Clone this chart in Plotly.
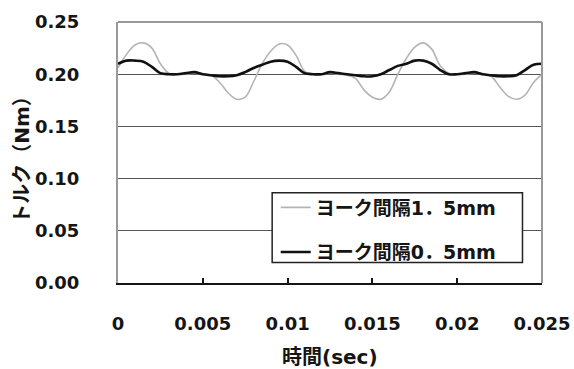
import plotly.graph_objects as go

# time (sec)
t = [0.0, 0.0005, 0.001, 0.0015, 0.002, 0.0025, 0.003, 0.0035, 0.004, 0.0045,
     0.005, 0.0055, 0.006, 0.0065, 0.007, 0.0075, 0.008, 0.0085, 0.009, 0.0095,
     0.010, 0.0105, 0.011, 0.0115, 0.012, 0.0125, 0.013, 0.0135, 0.014, 0.0145,
     0.015, 0.0155, 0.016, 0.0165, 0.017, 0.0175, 0.018, 0.0185, 0.019, 0.0195,
     0.020, 0.0205, 0.021, 0.0215, 0.022, 0.0225, 0.023, 0.0235, 0.024, 0.0245,
     0.025]

# ヨーク間隔1.5mm
torque_15 = [0.206, 0.219, 0.228, 0.230, 0.225, 0.210, 0.201, 0.200, 0.200, 0.201,
             0.200, 0.199, 0.192, 0.182, 0.176, 0.178, 0.193, 0.210, 0.222, 0.229,
             0.228, 0.218, 0.203, 0.200, 0.200, 0.201, 0.200, 0.199, 0.196, 0.185,
             0.178, 0.176, 0.183, 0.200, 0.215, 0.226, 0.230, 0.224, 0.208, 0.201,
             0.200, 0.200, 0.201, 0.200, 0.198, 0.188, 0.179, 0.176, 0.180, 0.192,
             0.200]

# ヨーク間隔0.5mm
torque_05 = [0.210, 0.213, 0.213, 0.212, 0.207, 0.201, 0.200, 0.200, 0.201, 0.202,
             0.200, 0.199, 0.198, 0.198, 0.199, 0.202, 0.206, 0.209, 0.212, 0.213,
             0.212, 0.207, 0.201, 0.200, 0.200, 0.202, 0.201, 0.200, 0.199, 0.198,
             0.198, 0.200, 0.204, 0.208, 0.210, 0.213, 0.213, 0.210, 0.204, 0.200,
             0.200, 0.201, 0.202, 0.200, 0.199, 0.198, 0.198, 0.199, 0.204, 0.209,
             0.210]

x_ticks = [0, 0.005, 0.01, 0.015, 0.02, 0.025]
x_tick_labels = ["0", "0.005", "0.01", "0.015", "0.02", "0.025"]
y_ticks = [0.0, 0.05, 0.10, 0.15, 0.20, 0.25]
y_tick_labels = ["0.00", "0.05", "0.10", "0.15", "0.20", "0.25"]

JP = "DejaVu Sans, Noto Sans CJK JP"
NUM = "DejaVu Sans"
INK = "#151515"

fig = go.Figure()
fig.add_trace(go.Scatter(x=t, y=torque_15, mode="lines", name="ヨーク間隔1．5mm",
                         legendgroup="a",
                         line=dict(color="#b4b4b4", width=1.6, shape="spline")))
fig.add_trace(go.Scatter(x=t, y=torque_05, mode="lines", name="ヨーク間隔0．5mm",
                         legendgroup="b",
                         line=dict(color="#111111", width=2.6, shape="spline")))

fig.update_layout(
    width=574, height=369,
    margin=dict(l=118, r=32, t=22, b=86, autoexpand=False),
    paper_bgcolor="white", plot_bgcolor="white",
    showlegend=True,
    legend=dict(x=0.372, y=0.362, xanchor="left", yanchor="top",
                bgcolor="rgba(0,0,0,0)", borderwidth=0,
                font=dict(family=JP, size=19, color=INK, weight="bold"),
                tracegroupgap=17, itemwidth=30),
    xaxis=dict(range=[0, 0.025], tickvals=x_ticks, ticktext=x_tick_labels,
               automargin=False,
               showgrid=False, zeroline=False, ticks="inside", ticklen=5,
               tickcolor=INK, tickwidth=1.5,
               showline=True, linecolor=INK, linewidth=1.5, mirror=False,
               tickfont=dict(family=NUM, size=18, color=INK, weight="bold"),
               ticklabelstandoff=24),
    yaxis=dict(range=[0, 0.25], tickvals=y_ticks, ticktext=y_tick_labels,
               automargin=False,
               showgrid=True, gridcolor="#555555", gridwidth=1, zeroline=False,
               showline=True, linecolor="#999999", linewidth=2, mirror=False,
               ticks="", tickfont=dict(family=NUM, size=18, color=INK, weight="bold"),
               ticklabelstandoff=33),
    shapes=[
        dict(type="line", xref="paper", yref="paper", x0=0, x1=1, y0=1, y1=1,
             line=dict(color="#999999", width=2)),
        dict(type="line", xref="paper", yref="paper", x0=1, x1=1, y0=0, y1=1,
             line=dict(color="#999999", width=2)),
        # legend frame
        dict(type="rect", xref="paper", yref="paper", x0=0.3636, x1=0.954,
             y0=0.0784, y1=0.346, layer="above", fillcolor="white",
             line=dict(color="#222222", width=1.5)),
    ],
    annotations=[
        dict(text="時間(sec)", xref="paper", yref="paper", x=0.5, y=-0.285,
             xanchor="center", yanchor="middle", showarrow=False,
             font=dict(family=JP, size=20, color=INK, weight="bold")),
        dict(text="トルク（Nm）", xref="paper", yref="paper", x=-0.225, y=0.49,
             xanchor="center", yanchor="middle", showarrow=False, textangle=-90,
             font=dict(family=JP, size=20, color=INK, weight="bold")),
    ],
)

fig.write_html("out.html")
